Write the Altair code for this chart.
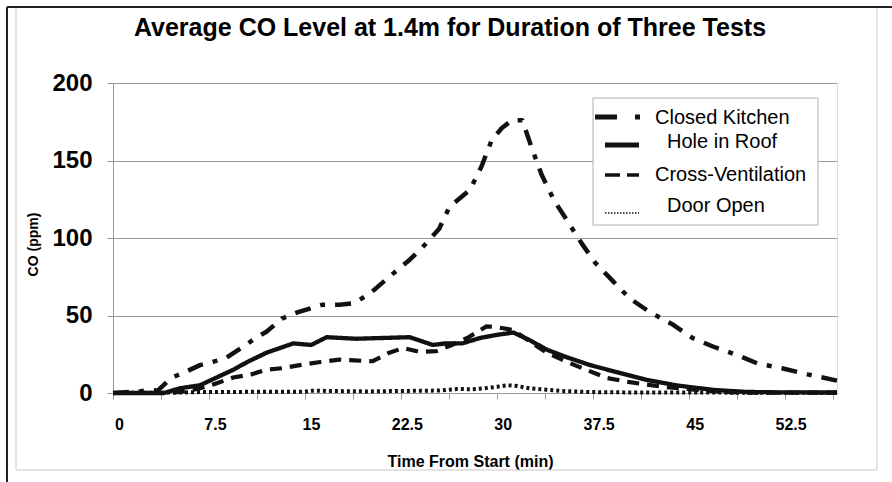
import altair as alt
import pandas as pd

FONT = "Liberation Sans"
INK = "#111111"

TITLE = "Average CO Level at 1.4m for Duration of Three Tests"
SERIES = ["Closed Kitchen", "Hole in Roof", "Cross-Ventilation", "Door Open"]

# Time (min) and CO (ppm) for each test
closed_t = [0, 1, 2, 2.9, 3.5, 4.2, 4.6, 5.5, 6.8, 8.2, 8.9, 10.2, 11.25, 12, 13.2, 14.4,
            15.6, 16.4, 17.7, 18.9, 20.2, 21.6, 23.2, 24.2, 25.5, 26.3, 27.9, 28.8, 29.6,
            30.4, 31.2, 32.0, 32.7, 33.5, 34.5, 35.6, 36.6, 37.7, 39.1, 40.4, 42, 43.8,
            45.3, 46.9, 48.8, 50.4, 52.3, 54.3, 56.6]
closed_v = [0, 0.5, 1, 2, 1.5, 7, 10, 13, 18, 21, 23, 30, 36, 39.5, 48, 52,
            55, 57, 57, 58, 65, 75, 86, 94, 106, 120, 131, 146, 163,
            171, 176, 176, 159, 141, 124, 110, 97, 84, 72, 61, 52, 44,
            35.5, 30, 24.5, 19, 16, 12, 8]

roof_t = [0, 2, 4, 4.6, 5.2, 6.8, 8.1, 9.4, 10.5, 12, 14.1, 15.5, 16.7, 19, 21.1, 23.2,
          25, 26, 27.3, 28.7, 30, 31.3, 32.6, 33.9, 35.5, 37.3, 39.6, 41.7, 44, 46.9,
          49.5, 52, 56.6]
roof_v = [0, 0, 0, 1.5, 3, 5, 10, 15, 20, 26, 32, 31, 36, 35, 35.5, 36,
          31, 32, 32, 35.5, 37.5, 39, 34, 28, 23, 18, 13, 8.5, 5, 2,
          0.7, 0.4, 0.3]

cross_t = [0, 2, 4.5, 5.5, 6.8, 8, 9.4, 10.8, 12, 13.2, 14.6, 16.2, 17.7, 18.9, 20.3,
           21.6, 22.7, 24, 25.3, 26.5, 27.7, 29.2, 30, 31.3, 32.8, 33.9, 35.5, 37, 38.6,
           40.4, 43, 45.6, 48.2, 50, 56.6]
cross_v = [0, 0, 0, 1, 3, 6, 10, 12, 15, 16, 18, 20, 21.5, 21, 20.5,
           26, 29, 26.5, 27, 31, 35.5, 43, 42.5, 40.6, 32, 26, 20, 15, 9.7,
           7, 4, 2, 0.5, 0.2, 0.2]

door_t = [0, 5, 7, 12, 15, 15.6, 18, 20, 22, 24, 25.5, 26.9, 28, 29, 30, 30.8, 31.6,
          32.6, 34, 35, 37.3, 40, 45, 50, 56.6]
door_v = [0, 0.3, 0.6, 0.8, 0.8, 1.5, 1.2, 1, 1.3, 1.4, 1.6, 2.6, 2.4, 3, 4, 5, 4.5,
          3, 2, 1.3, 0.6, 0.4, 0.3, 0.2, 0.2]

X_TICKS = [0, 3.75, 7.5, 11.25, 15, 18.75, 22.5, 26.25, 30, 33.75, 37.5, 41.25,
           45, 48.75, 52.5, 56.25]
Y_TICKS = [0, 50, 100, 150, 200]

# Line style per series: dash-dot, solid, dashed, dotted
DASHES = [[16, 10, 5, 10], [1, 0], [12, 8], [3, 3]]
WIDTHS = [4.5, 4, 3, 2.5]

frames = []
for name, t, v in zip(SERIES, [closed_t, roof_t, cross_t, door_t],
                      [closed_v, roof_v, cross_v, door_v]):
    frames.append(pd.DataFrame({"series": name, "time": t, "co": v}))
df = pd.concat(frames, ignore_index=True)

W, H = 724, 310

lines = alt.Chart(df).mark_line(color=INK, strokeCap="butt", strokeJoin="round").encode(
    x=alt.X("time:Q",
            scale=alt.Scale(domain=[0, 56.6], nice=False, zero=False),
            axis=alt.Axis(values=X_TICKS,
                          labelExpr="datum.value % 7.5 == 0 ? toString(datum.value) : ''",
                          labelFont=FONT, labelFontSize=16, labelFontWeight="bold",
                          labelColor="black", labelOffset=6, labelPadding=25,
                          labelBaseline="middle", labelOverlap=False, labelFlush=False,
                          tickSize=6, tickColor="#999999", domainColor="#999999",
                          grid=False,
                          title="Time From Start (min)", titleFont=FONT,
                          titleFontSize=16, titleFontWeight="bold", titleColor="black",
                          titleX=357, titleY=68, titleAlign="center",
                          titleBaseline="middle")),
    y=alt.Y("co:Q",
            scale=alt.Scale(domain=[0, 200], nice=False),
            axis=alt.Axis(values=Y_TICKS, labelFont=FONT, labelFontSize=24,
                          labelFontWeight="bold", labelColor="black", labelPadding=15,
                          tickSize=6, tickColor="#999999", domainColor="#999999",
                          grid=True, gridColor="#9a9a9a", gridWidth=1,
                          title="CO (ppm)", titleFont=FONT, titleFontSize=14,
                          titleFontWeight="bold", titleColor="black",
                          titleX=-80, titleY=161, titleAlign="center",
                          titleBaseline="middle")),
    detail="series:N",
    strokeDash=alt.StrokeDash("series:N", scale=alt.Scale(domain=SERIES, range=DASHES),
                              legend=None),
    strokeWidth=alt.StrokeWidth("series:N", scale=alt.Scale(domain=SERIES, range=WIDTHS),
                                legend=None),
)

one = pd.DataFrame({"k": [0]})

# Chart heading
heading = alt.Chart(pd.DataFrame({"label": [TITLE]})).mark_text(
    font=FONT, fontSize=25, fontWeight="bold", color="black", align="center",
    baseline="alphabetic").encode(x=alt.value(337), y=alt.value(-47), text="label:N")

# Legend panel drawn inside the plot
legend_box = alt.Chart(one).mark_rect(fill="white", stroke="#b0b0b0", strokeWidth=1).encode(
    x=alt.value(480), x2=alt.value(705), y=alt.value(15), y2=alt.value(142))

legend_layout = [
    # (sample x0, x1, y, dash, width, text x, baseline y)
    (482, 527, 34, [22, 18, 5, 10], 5, 542, 41),
    (492, 526, 62, [1, 0], 5, 554, 65),
    (492, 526, 92, [15, 7], 3.5, 542, 98),
    (492, 526, 130, [1.5, 1.5], 1.5, 554, 129),
]
legend_layers = []
for name, (x0, x1, ys, dash, w, tx, ty) in zip(SERIES, legend_layout):
    legend_layers.append(
        alt.Chart(one).mark_rule(color=INK, strokeWidth=w, strokeDash=dash,
                                 strokeCap="butt").encode(
            x=alt.value(x0), x2=alt.value(x1), y=alt.value(ys)))
    legend_layers.append(
        alt.Chart(pd.DataFrame({"label": [name]})).mark_text(
            font=FONT, fontSize=20, color="black", align="left",
            baseline="alphabetic").encode(
            x=alt.value(tx), y=alt.value(ty), text="label:N"))

# Frame around the whole figure
frame = [
    alt.Chart(one).mark_rule(color="#c8c8c8", strokeWidth=1).encode(
        x=alt.value(-97), y=alt.value(-76), y2=alt.value(387)),
    alt.Chart(one).mark_rule(color="#c8c8c8", strokeWidth=1).encode(
        x=alt.value(764), y=alt.value(-76), y2=alt.value(387)),
    alt.Chart(one).mark_rule(color="#c8c8c8", strokeWidth=1).encode(
        x=alt.value(-97), x2=alt.value(764), y=alt.value(387)),
    alt.Chart(one).mark_rule(color="#222222", strokeWidth=2).encode(
        x=alt.value(-106), x2=alt.value(779), y=alt.value(-76)),
    alt.Chart(one).mark_rule(color="#222222", strokeWidth=2).encode(
        x=alt.value(-106), y=alt.value(-76), y2=alt.value(399)),
]

chart = alt.layer(lines, legend_box, *legend_layers, heading, *frame).properties(
    width=W, height=H,
    padding={"left": 113, "top": 83, "right": 55, "bottom": 89},
    autosize=alt.AutoSizeParams(type="none"),
).configure_view(fill="#cbcbcb", stroke="#999999", strokeWidth=2
).configure(background="white")

chart.save("out.html", embed_options={"renderer": "svg", "actions": False})
